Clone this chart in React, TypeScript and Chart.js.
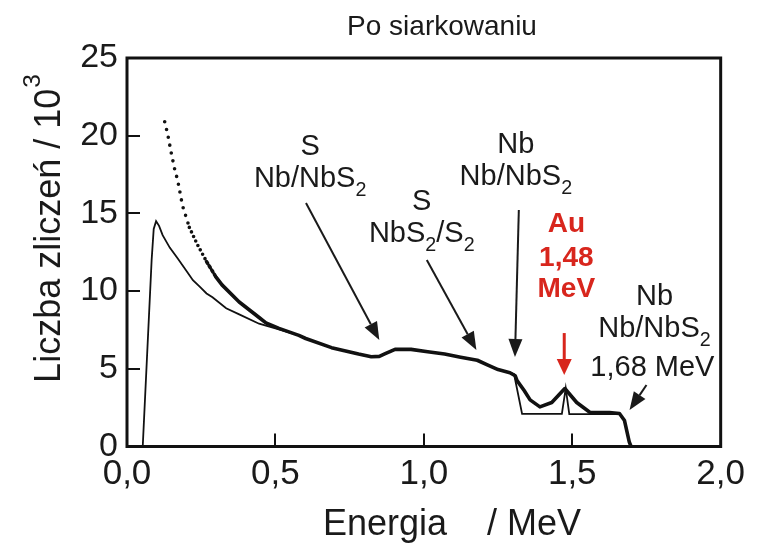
import React, { useEffect, useRef } from 'react';
import { Chart, registerables } from 'chart.js';

Chart.register(...registerables);

// ---------- data ----------
const chartTitle = 'Po siarkowaniu';
const xAxisTitle = 'Energia    / MeV';
const yAxisTitle = 'Liczba zliczeń / 10';
const yAxisTitleSup = '3';

const xTickValues = [0, 0.5, 1.0, 1.5, 2.0];
const yTickValues = [0, 5, 10, 15, 20, 25];

// measured spectrum (dots)
const expEnergy = [0.127, 0.137, 0.15, 0.16, 0.171, 0.187, 0.21, 0.237, 0.268, 0.3, 0.32, 0.378, 0.445, 0.468, 0.512, 0.579, 0.602, 0.689, 0.78, 0.823, 0.85, 0.87, 0.903, 0.957, 1.013, 1.07, 1.124, 1.18, 1.214, 1.25, 1.29, 1.308, 1.314, 1.338, 1.358, 1.391, 1.431, 1.475, 1.515, 1.559, 1.625, 1.659, 1.676, 1.692, 1.698];
const expCounts = [20.9, 20.1, 18.8, 17.9, 17.1, 15.5, 14.1, 13.0, 11.9, 10.9, 10.4, 9.3, 8.3, 7.95, 7.6, 7.15, 6.95, 6.36, 5.95, 5.78, 5.8, 5.97, 6.25, 6.25, 6.1, 5.95, 5.75, 5.55, 5.25, 4.95, 4.75, 4.55, 4.24, 3.6, 3.0, 2.55, 2.83, 3.73, 2.83, 2.2, 2.18, 2.12, 1.67, 0.3, 0];

// simulated spectrum (solid line)
const simEnergy = [0.053, 0.083, 0.09, 0.098, 0.108, 0.12, 0.144, 0.171, 0.204, 0.222, 0.244, 0.268, 0.288, 0.334, 0.378, 0.445, 0.5, 0.579, 0.602, 0.689, 0.78, 0.823, 0.85, 0.87, 0.903, 0.957, 1.013, 1.07, 1.124, 1.18, 1.214, 1.25, 1.29, 1.304, 1.331, 1.465, 1.478, 1.49, 1.659, 1.676, 1.692, 1.698];
const simCounts = [0, 12.0, 14.0, 14.5, 14.2, 13.6, 12.8, 12.1, 11.2, 10.7, 10.3, 9.85, 9.6, 8.9, 8.5, 7.9, 7.6, 7.15, 6.95, 6.36, 5.95, 5.78, 5.8, 5.97, 6.25, 6.25, 6.1, 5.95, 5.75, 5.55, 5.25, 4.95, 4.75, 4.65, 2.1, 2.1, 3.75, 2.08, 2.08, 1.67, 0.3, 0];

// annotation texts (anchor in data units), "₂" marks a subscript 2
const noteTexts = [
  { text: 'S', x: 0.617, y: 19.4, red: false },
  { text: 'Nb/NbS₂', x: 0.617, y: 17.34, red: false },
  { text: 'S', x: 0.993, y: 15.86, red: false },
  { text: 'NbS₂/S₂', x: 0.993, y: 13.8, red: false },
  { text: 'Nb', x: 1.31, y: 19.53, red: false },
  { text: 'Nb/NbS₂', x: 1.31, y: 17.47, red: false },
  { text: 'Au', x: 1.48, y: 14.45, red: true },
  { text: '1,48', x: 1.48, y: 12.26, red: true },
  { text: 'MeV', x: 1.48, y: 10.26, red: true },
  { text: 'Nb', x: 1.777, y: 9.75, red: false },
  { text: 'Nb/NbS₂', x: 1.777, y: 7.69, red: false },
  { text: '1,68 MeV', x: 1.77, y: 5.18, red: false },
];

// arrows (tail -> head) in data units
const noteArrows = [
  { x1: 0.603, y1: 15.67, x2: 0.85, y2: 6.85, red: false },
  { x1: 1.01, y1: 12.0, x2: 1.177, y2: 6.21, red: false },
  { x1: 1.32, y1: 15.22, x2: 1.307, y2: 5.76, red: false },
  { x1: 1.473, y1: 7.3, x2: 1.473, y2: 4.6, red: true },
  { x1: 1.75, y1: 3.96, x2: 1.693, y2: 2.35, red: false },
];

// ---------- styles ----------
const FONT = "'Liberation Sans', Arial, Helvetica, sans-serif";
const INK = '#1a1a1a';
const RED = '#d8261d';

function drawRich(ctx: CanvasRenderingContext2D, str: string, cx: number, cy: number, size: number, bold: boolean, color: string) {
  const parts = str.split('₂');
  const segs: { t: string; sub: boolean }[] = [];
  parts.forEach((p, i) => {
    if (p) segs.push({ t: p, sub: false });
    if (i < parts.length - 1) segs.push({ t: '2', sub: true });
  });
  const subSize = size * 0.68;
  const fMain = `${bold ? 'bold ' : ''}${size}px ${FONT}`;
  const fSub = `${bold ? 'bold ' : ''}${subSize}px ${FONT}`;
  let total = 0;
  const widths = segs.map((s) => {
    ctx.font = s.sub ? fSub : fMain;
    const w = ctx.measureText(s.t).width;
    total += w;
    return w;
  });
  let x = cx - total / 2;
  ctx.fillStyle = color;
  ctx.textAlign = 'left';
  ctx.textBaseline = 'alphabetic';
  const base = cy + size * 0.36;
  segs.forEach((s, i) => {
    ctx.font = s.sub ? fSub : fMain;
    ctx.fillText(s.t, x, s.sub ? base + size * 0.28 : base);
    x += widths[i];
  });
}

function drawArrow(ctx: CanvasRenderingContext2D, x1: number, y1: number, x2: number, y2: number, color: string, lw: number, headLen: number, headW: number) {
  const ang = Math.atan2(y2 - y1, x2 - x1);
  const bx = x2 - headLen * Math.cos(ang);
  const by = y2 - headLen * Math.sin(ang);
  ctx.strokeStyle = color;
  ctx.fillStyle = color;
  ctx.lineWidth = lw;
  ctx.beginPath();
  ctx.moveTo(x1, y1);
  ctx.lineTo(bx, by);
  ctx.stroke();
  const nx = -Math.sin(ang) * headW / 2;
  const ny = Math.cos(ang) * headW / 2;
  ctx.beginPath();
  ctx.moveTo(x2, y2);
  ctx.lineTo(bx + nx, by + ny);
  ctx.lineTo(bx - nx, by - ny);
  ctx.closePath();
  ctx.fill();
}

const decorPlugin = {
  id: 'decor',
  afterDatasetsDraw(chart: any) {
    const { ctx, chartArea, scales } = chart;
    const xs = scales.x;
    const ys = scales.y;
    ctx.save();
    // frame
    ctx.strokeStyle = '#111';
    ctx.lineWidth = 3;
    ctx.strokeRect(chartArea.left, chartArea.top, chartArea.right - chartArea.left, chartArea.bottom - chartArea.top);

    // arrows
    noteArrows.forEach((a) => {
      drawArrow(
        ctx,
        xs.getPixelForValue(a.x1), ys.getPixelForValue(a.y1),
        xs.getPixelForValue(a.x2), ys.getPixelForValue(a.y2),
        a.red ? RED : INK, a.red ? 3 : 2, a.red ? 16 : 18, a.red ? 15 : 14
      );
    });
    // annotation texts
    noteTexts.forEach((n) => {
      drawRich(ctx, n.text, xs.getPixelForValue(n.x), ys.getPixelForValue(n.y), n.red ? 28 : 29, n.red, n.red ? RED : INK);
    });

    // chart title
    drawRich(ctx, chartTitle, chartArea.left + 315, chartArea.top - 33, 28, false, INK);
    // x axis title
    drawRich(ctx, xAxisTitle, chartArea.left + 325, chartArea.bottom + 76, 36, false, INK);
    // y axis title with superscript
    ctx.translate(chartArea.left - 80, chartArea.top + 171);
    ctx.rotate(-Math.PI / 2);
    const ySize = 36;
    ctx.font = `${ySize}px ${FONT}`;
    const wMain = ctx.measureText(yAxisTitle).width;
    ctx.font = `${ySize * 0.68}px ${FONT}`;
    const wSup = ctx.measureText(yAxisTitleSup).width;
    const start = -(wMain + wSup) / 2;
    ctx.fillStyle = INK;
    ctx.textAlign = 'left';
    ctx.textBaseline = 'alphabetic';
    ctx.font = `${ySize}px ${FONT}`;
    ctx.fillText(yAxisTitle, start, ySize * 0.36);
    ctx.font = `${ySize * 0.68}px ${FONT}`;
    ctx.fillText(yAxisTitleSup, start + wMain + 1, ySize * 0.36 - ySize * 0.55);
    ctx.restore();
  },
};

export default function App() {
  const canvasRef = useRef<HTMLCanvasElement | null>(null);

  useEffect(() => {
    if (!canvasRef.current) return;
    const expData = expEnergy.map((x, i) => ({ x, y: expCounts[i] }));
    const simData = simEnergy.map((x, i) => ({ x, y: simCounts[i] }));

    const chart = new Chart(canvasRef.current, {
      type: 'line',
      data: {
        datasets: [
          {
            label: 'pomiar',
            data: expData,
            borderColor: '#111',
            borderWidth: 3.6,
            borderCapStyle: 'round',
            borderJoinStyle: 'round',
            pointRadius: 0,
            tension: 0,
            segment: {
              borderDash: (c: any) =>
                c.p0.parsed.x < 0.2 ? [0, 8] : c.p0.parsed.x < 0.26 ? [0, 5] : c.p0.parsed.x < 0.3 ? [2, 3] : undefined,
            },
          } as any,
          {
            label: 'symulacja',
            data: simData,
            borderColor: '#111',
            borderWidth: 1.8,
            pointRadius: 0,
            tension: 0,
          },
        ],
      },
      options: {
        animation: false,
        responsive: false,
        maintainAspectRatio: false,
        events: [],
        layout: { padding: { left: 0, top: 58, right: 40, bottom: 0 } },
        plugins: {
          legend: { display: false },
          tooltip: { enabled: false },
          title: { display: false },
        },
        scales: {
          x: {
            type: 'linear',
            min: 0,
            max: 2,
            afterFit: (s: any) => {
              s.height = 101.5;
            },
            afterBuildTicks: (s: any) => {
              s.ticks = xTickValues.map((v) => ({ value: v }));
            },
            ticks: {
              color: INK,
              font: { size: 35, family: FONT },
              padding: 20,
              maxRotation: 0,
              callback: (v: any) => Number(v).toFixed(1).replace('.', ','),
            },
            grid: { drawOnChartArea: false, drawTicks: true, tickLength: -13, color: '#111', lineWidth: 2 },
            border: { display: false },
          },
          y: {
            type: 'linear',
            min: 0,
            max: 25,
            afterFit: (s: any) => {
              s.width = 127;
            },
            afterBuildTicks: (s: any) => {
              s.ticks = yTickValues.map((v) => ({ value: v }));
            },
            ticks: {
              color: INK,
              font: { size: 34, family: FONT },
              padding: 22,
              callback: (v: any) => String(v),
            },
            grid: { drawOnChartArea: false, drawTicks: true, tickLength: -13, color: '#111', lineWidth: 2 },
            border: { display: false },
          },
        },
      },
      plugins: [decorPlugin],
    } as any);

    return () => chart.destroy();
  }, []);

  return (
    <div style={{ position: 'fixed', left: 0, top: 0, width: 765, height: 548, background: '#fff' }}>
      <canvas ref={canvasRef} width={765} height={548} style={{ display: 'block', width: 765, height: 548 }} />
    </div>
  );
}
